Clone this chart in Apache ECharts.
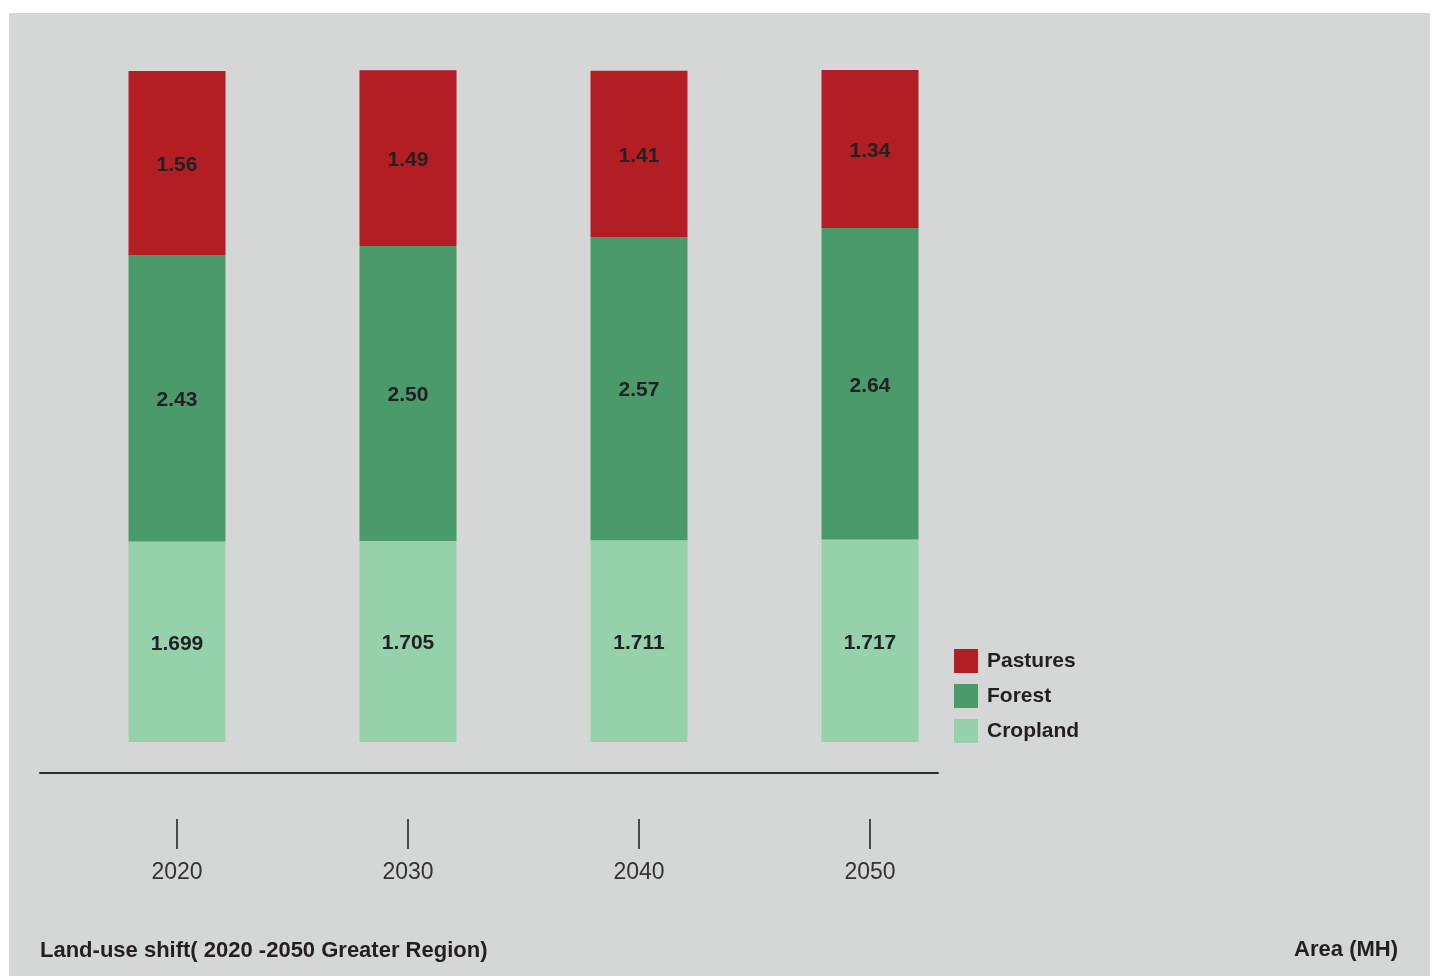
<!DOCTYPE html>
<html>
<head>
<meta charset="utf-8">
<script src="https://cdn.jsdelivr.net/npm/echarts@6/dist/echarts.min.js"></script>
<style>
  html, body { margin: 0; padding: 0; background: #ffffff; }
  #chart { width: 1435px; height: 976px; }
</style>
</head>
<body>
<div id="chart"></div>
<script>
// Land-use areas by decade (MH)
const years = ['2020', '2030', '2040', '2050'];
const cropland = [1.699, 1.705, 1.711, 1.717];
const forest = [2.43, 2.50, 2.57, 2.64];
const pastures = [1.56, 1.49, 1.41, 1.34];
const seriesNames = ['Cropland', 'Forest', 'Pastures'];
const legendOrder = ['Pastures', 'Forest', 'Cropland'];
const colors = { Cropland: '#95d1ab', Forest: '#4a9a6b', Pastures: '#b31e24' };
const chartTitle = 'Land-use shift( 2020 -2050 Greater Region)';
const unitLabel = 'Area (MH)';

const FONT = '"Liberation Sans", "Helvetica Neue", Arial, sans-serif';
const textDark = '#231f20';

const totals = years.map((_, i) => cropland[i] + forest[i] + pastures[i]);
const yMax = Math.max(...totals);

const valueSets = { Cropland: cropland, Forest: forest, Pastures: pastures };

const labelFmt = p => {
  const v = p.value;
  return p.seriesName === 'Cropland' ? v.toFixed(3) : v.toFixed(2);
};

const chart = echarts.init(document.getElementById('chart'), null, { renderer: 'canvas' });

chart.setOption({
  backgroundColor: '#ffffff',
  animation: false,
  graphic: [
    {
      type: 'rect', z: -10, silent: true,
      shape: { x: 9, y: 13, width: 1421, height: 963 },
      style: { fill: '#d5d7d6' }
    },
    {
      type: 'text', left: 40, top: 940,
      style: { text: chartTitle, font: 'bold 22px ' + FONT, fill: textDark }
    },
    {
      type: 'text', right: 37, top: 939,
      style: { text: unitLabel, font: 'bold 22px ' + FONT, fill: textDark }
    }
  ],
  legend: {
    orient: 'vertical',
    left: 954, top: 649,
    padding: 0,
    data: legendOrder,
    icon: 'rect',
    itemWidth: 24, itemHeight: 24, itemGap: 11,
    selectedMode: false,
    textStyle: { fontFamily: FONT, fontSize: 21, fontWeight: 'bold', color: textDark, padding: [0, 0, 0, 4] }
  },
  grid: [
    // bars
    { left: 61.5, width: 924, top: 70, bottom: 234, containLabel: false },
    // baseline rule
    { left: 40, width: 898, top: 70, bottom: 203, containLabel: false },
    // year ticks and labels
    { left: 61.5, width: 924, top: 790, bottom: 157, containLabel: false }
  ],
  xAxis: [
    {
      type: 'category', gridIndex: 0, data: years,
      show: false
    },
    {
      type: 'value', gridIndex: 1, min: 0, max: 1,
      axisLine: { show: true, onZero: false, lineStyle: { color: '#2e2e2e', width: 2 } },
      axisTick: { show: false }, axisLabel: { show: false }, splitLine: { show: false }
    },
    {
      type: 'category', gridIndex: 2, data: years,
      axisLine: { show: false },
      axisTick: { show: true, length: 30, alignWithLabel: true, lineStyle: { color: '#4a4a4a', width: 2 } },
      axisLabel: { margin: 42, fontFamily: FONT, fontSize: 23, color: '#333333' },
      splitLine: { show: false }
    }
  ],
  yAxis: [
    { type: 'value', gridIndex: 0, min: 0, max: yMax, show: false, splitLine: { show: false } },
    { type: 'value', gridIndex: 1, min: 0, max: 1, show: false, splitLine: { show: false } },
    { type: 'value', gridIndex: 2, min: 0, max: 1, show: false, splitLine: { show: false } }
  ],
  series: seriesNames.map(name => ({
    name,
    type: 'bar',
    stack: 'area',
    xAxisIndex: 0, yAxisIndex: 0,
    barWidth: 97,
    data: valueSets[name],
    itemStyle: { color: colors[name] },
    label: {
      show: true, position: 'inside',
      offset: [0, 2],
      formatter: labelFmt,
      fontFamily: FONT, fontSize: 21, fontWeight: 'bold', color: '#222222'
    }
  }))
});
</script>
</body>
</html>
